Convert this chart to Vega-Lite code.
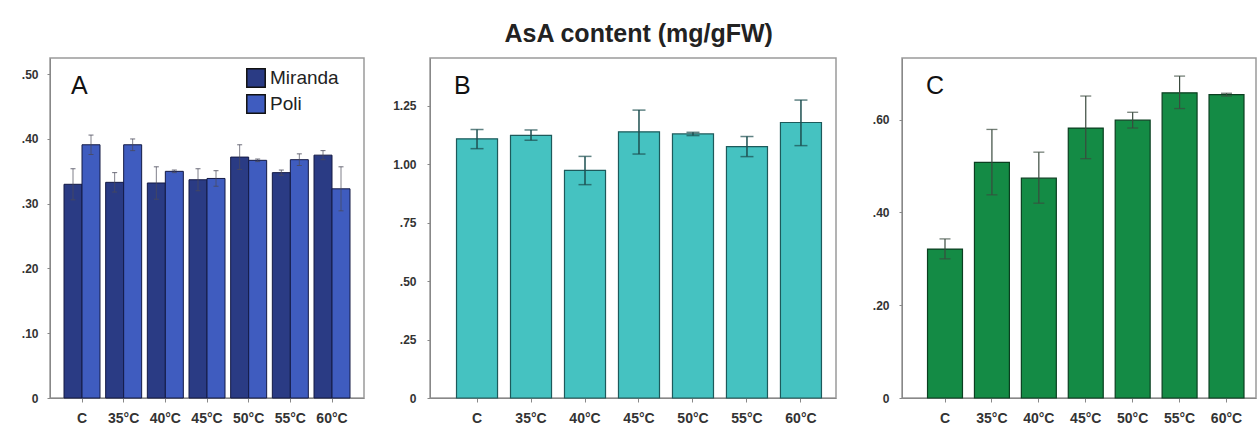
{
  "$schema": "https://vega.github.io/schema/vega-lite/v6.json",
  "background": "white",
  "padding": {"left": 20, "top": 22, "right": 0, "bottom": 0},
  "title": {"text": "AsA  content (mg/gFW)", "fontSize": 25, "fontWeight": "bold", "font": "Liberation Sans", "anchor": "middle", "offset": 10, "color": "#222222"},
  "datasets": {
    "A": [
      {"cond": "C", "cultivar": "Miranda", "value": 0.330, "lo": 0.306, "hi": 0.354},
      {"cond": "C", "cultivar": "Poli", "value": 0.391, "lo": 0.376, "hi": 0.406},
      {"cond": "35°C", "cultivar": "Miranda", "value": 0.333, "lo": 0.318, "hi": 0.348},
      {"cond": "35°C", "cultivar": "Poli", "value": 0.391, "lo": 0.382, "hi": 0.400},
      {"cond": "40°C", "cultivar": "Miranda", "value": 0.332, "lo": 0.307, "hi": 0.357},
      {"cond": "40°C", "cultivar": "Poli", "value": 0.350, "lo": 0.348, "hi": 0.352},
      {"cond": "45°C", "cultivar": "Miranda", "value": 0.337, "lo": 0.320, "hi": 0.354},
      {"cond": "45°C", "cultivar": "Poli", "value": 0.339, "lo": 0.327, "hi": 0.351},
      {"cond": "50°C", "cultivar": "Miranda", "value": 0.372, "lo": 0.353, "hi": 0.391},
      {"cond": "50°C", "cultivar": "Poli", "value": 0.367, "lo": 0.365, "hi": 0.369},
      {"cond": "55°C", "cultivar": "Miranda", "value": 0.348, "lo": 0.344, "hi": 0.352},
      {"cond": "55°C", "cultivar": "Poli", "value": 0.368, "lo": 0.359, "hi": 0.377},
      {"cond": "60°C", "cultivar": "Miranda", "value": 0.375, "lo": 0.368, "hi": 0.382},
      {"cond": "60°C", "cultivar": "Poli", "value": 0.323, "lo": 0.289, "hi": 0.357}
    ],
    "B": [
      {"cond": "C", "value": 1.109, "lo": 1.067, "hi": 1.149},
      {"cond": "35°C", "value": 1.124, "lo": 1.103, "hi": 1.147},
      {"cond": "40°C", "value": 0.974, "lo": 0.913, "hi": 1.034},
      {"cond": "45°C", "value": 1.139, "lo": 1.044, "hi": 1.232},
      {"cond": "50°C", "value": 1.130, "lo": 1.123, "hi": 1.137},
      {"cond": "55°C", "value": 1.076, "lo": 1.033, "hi": 1.119},
      {"cond": "60°C", "value": 1.179, "lo": 1.080, "hi": 1.275}
    ],
    "C": [
      {"cond": "C", "value": 0.321, "lo": 0.300, "hi": 0.343},
      {"cond": "35°C", "value": 0.508, "lo": 0.438, "hi": 0.579},
      {"cond": "40°C", "value": 0.474, "lo": 0.420, "hi": 0.530},
      {"cond": "45°C", "value": 0.582, "lo": 0.516, "hi": 0.651},
      {"cond": "50°C", "value": 0.599, "lo": 0.582, "hi": 0.616},
      {"cond": "55°C", "value": 0.658, "lo": 0.624, "hi": 0.694},
      {"cond": "60°C", "value": 0.654, "lo": 0.651, "hi": 0.657}
    ]
  },
  "spacing": 66,
  "bounds": "flush",
  "hconcat": [
    {
      "width": 314,
      "height": 340,
      "data": {"name": "A"},
      "title": {"text": "A", "anchor": "start", "frame": "group", "dx": 21, "offset": -41, "baseline": "top", "fontSize": 25, "fontWeight": "normal", "font": "Liberation Sans", "color": "#111111"},
      "encoding": {
        "x": {"field": "cond", "type": "nominal", "sort": ["C", "35°C", "40°C", "45°C", "50°C", "55°C", "60°C"],
              "scale": {"paddingInner": 0.136, "paddingOuter": 0.336},
              "axis": {"title": null, "labelAngle": 0, "labelFontSize": 14, "labelFontWeight": "bold", "labelFont": "Liberation Sans", "labelColor": "#333333", "tickSize": 4, "labelPadding": 9, "domainColor": "#888888", "tickColor": "#888888"}},
        "xOffset": {"field": "cultivar", "type": "nominal", "scale": {"paddingInner": 0, "paddingOuter": 0}}
      },
      "layer": [
        {
          "mark": {"type": "bar", "stroke": "#141a45", "strokeWidth": 1},
          "encoding": {
            "y": {"field": "value", "type": "quantitative", "scale": {"domain": [0, 0.525], "nice": false},
                  "axis": {"title": null, "values": [0, 0.1, 0.2, 0.3, 0.4, 0.5], "grid": false,
                           "labelExpr": "datum.value == 0 ? '0' : replace(format(datum.value, '.2f'), '0.', '.')",
                           "labelFontSize": 12, "labelFontWeight": "bold", "labelFont": "Liberation Sans", "labelColor": "#333333", "tickSize": 3, "labelPadding": 9, "domainColor": "#888888", "tickColor": "#888888"}},
            "color": {"field": "cultivar", "type": "nominal",
                      "scale": {"domain": ["Miranda", "Poli"], "range": ["#2a3b84", "#3f5cbf"]},
                      "legend": {"title": null, "orient": "none", "legendX": 196, "legendY": 10, "symbolType": "square", "symbolSize": 340, "symbolStrokeColor": "#111111", "symbolStrokeWidth": 1.5, "symbolOpacity": 1, "labelFontSize": 19, "labelFont": "Liberation Sans", "labelColor": "#222222", "labelOffset": 4, "rowPadding": 0}}
          }
        },
        {
          "mark": {"type": "rule", "color": "#4a4a5a", "strokeWidth": 1, "opacity": 0.7},
          "encoding": {"y": {"field": "lo", "type": "quantitative"}, "y2": {"field": "hi"}}
        },
        {
          "mark": {"type": "tick", "color": "#4a4a5a", "size": 5, "thickness": 1, "opacity": 0.8},
          "encoding": {"y": {"field": "hi", "type": "quantitative"}}
        },
        {
          "mark": {"type": "tick", "color": "#4a4a5a", "size": 5, "thickness": 1, "opacity": 0.8},
          "encoding": {"y": {"field": "lo", "type": "quantitative"}}
        }
      ]
    },
    {
      "width": 406,
      "height": 340,
      "data": {"name": "B"},
      "title": {"text": "B", "anchor": "start", "frame": "group", "dx": 24, "offset": -41, "baseline": "top", "fontSize": 25, "fontWeight": "normal", "font": "Liberation Sans", "color": "#111111"},
      "encoding": {
        "x": {"field": "cond", "type": "nominal", "sort": ["C", "35°C", "40°C", "45°C", "50°C", "55°C", "60°C"],
              "scale": {"paddingInner": 0.24, "paddingOuter": 0.38, "align": 0.646},
              "axis": {"title": null, "labelAngle": 0, "labelFontSize": 14, "labelFontWeight": "bold", "labelFont": "Liberation Sans", "labelColor": "#333333", "tickSize": 4, "labelPadding": 9, "domainColor": "#888888", "tickColor": "#888888"}}
      },
      "layer": [
        {
          "mark": {"type": "bar", "color": "#45c2c1", "stroke": "#1d5a5b", "strokeWidth": 1.2},
          "encoding": {
            "y": {"field": "value", "type": "quantitative", "scale": {"domain": [0, 1.455], "nice": false},
                  "axis": {"title": null, "values": [0, 0.25, 0.5, 0.75, 1, 1.25], "grid": false,
                           "labelExpr": "datum.value == 0 ? '0' : (datum.value < 1 ? replace(format(datum.value, '.2f'), '0.', '.') : format(datum.value, '.2f'))",
                           "labelFontSize": 12, "labelFontWeight": "bold", "labelFont": "Liberation Sans", "labelColor": "#333333", "tickSize": 3, "labelPadding": 11, "domainColor": "#888888", "tickColor": "#888888"}}
          }
        },
        {
          "mark": {"type": "rule", "color": "#1d4f50", "strokeWidth": 1.5},
          "encoding": {"y": {"field": "lo", "type": "quantitative"}, "y2": {"field": "hi"}}
        },
        {
          "mark": {"type": "tick", "color": "#1d4f50", "size": 13, "thickness": 1.5},
          "encoding": {"y": {"field": "hi", "type": "quantitative"}}
        },
        {
          "mark": {"type": "tick", "color": "#1d4f50", "size": 13, "thickness": 1.5},
          "encoding": {"y": {"field": "lo", "type": "quantitative"}}
        }
      ]
    },
    {
      "width": 354,
      "height": 340,
      "data": {"name": "C"},
      "title": {"text": "C", "anchor": "start", "frame": "group", "dx": 24, "offset": -41, "baseline": "top", "fontSize": 25, "fontWeight": "normal", "font": "Liberation Sans", "color": "#111111"},
      "encoding": {
        "x": {"field": "cond", "type": "nominal", "sort": ["C", "35°C", "40°C", "45°C", "50°C", "55°C", "60°C"],
              "scale": {"paddingInner": 0.255, "paddingOuter": 0.4, "align": 0.68},
              "axis": {"title": null, "labelAngle": 0, "labelFontSize": 14, "labelFontWeight": "bold", "labelFont": "Liberation Sans", "labelColor": "#333333", "tickSize": 4, "labelPadding": 9, "domainColor": "#888888", "tickColor": "#888888"}}
      },
      "layer": [
        {
          "mark": {"type": "bar", "color": "#148b45", "stroke": "#0a3f20", "strokeWidth": 1.2},
          "encoding": {
            "y": {"field": "value", "type": "quantitative", "scale": {"domain": [0, 0.733], "nice": false},
                  "axis": {"title": null, "values": [0, 0.2, 0.4, 0.6], "grid": false,
                           "labelExpr": "datum.value == 0 ? '0' : replace(format(datum.value, '.2f'), '0.', '.')",
                           "labelFontSize": 12, "labelFontWeight": "bold", "labelFont": "Liberation Sans", "labelColor": "#333333", "tickSize": 3, "labelPadding": 10, "domainColor": "#888888", "tickColor": "#888888"}}
          }
        },
        {
          "mark": {"type": "rule", "color": "#3a4a3e", "strokeWidth": 1.2},
          "encoding": {"y": {"field": "lo", "type": "quantitative"}, "y2": {"field": "hi"}}
        },
        {
          "mark": {"type": "tick", "color": "#3a4a3e", "size": 11, "thickness": 1.3},
          "encoding": {"y": {"field": "hi", "type": "quantitative"}}
        },
        {
          "mark": {"type": "tick", "color": "#3a4a3e", "size": 11, "thickness": 1.3},
          "encoding": {"y": {"field": "lo", "type": "quantitative"}}
        }
      ]
    }
  ],
  "resolve": {"scale": {"y": "independent"}},
  "config": {
    "view": {"stroke": "#9a9a9a", "strokeWidth": 1.5},
    "font": "Liberation Sans"
  }
}
